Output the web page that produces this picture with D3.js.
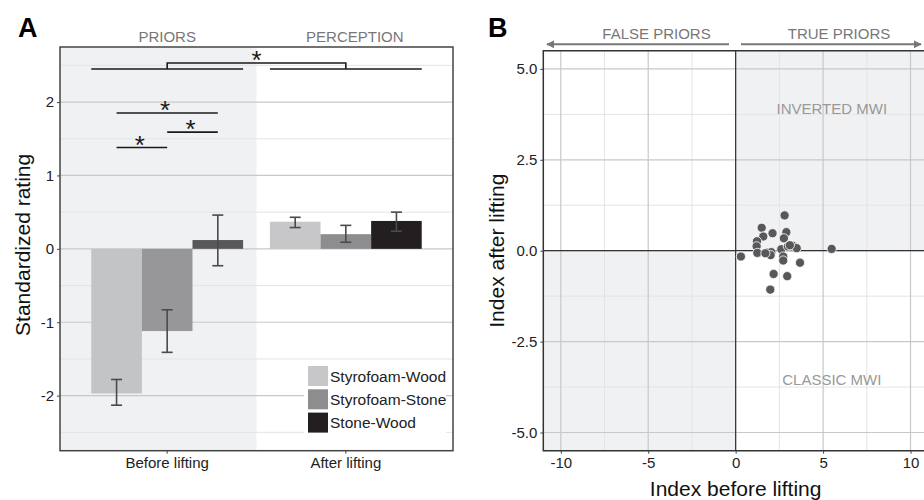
<!DOCTYPE html>
<html lang="en">
<head>
<meta charset="utf-8">
<script src="https://d3js.org/d3.v7.min.js"></script>
<style>
  body { margin: 0; background: #fff; }
  svg { font-family: "Liberation Sans", Arial, sans-serif; }
</style>
</head>
<body>
<script>
// Panel A data
const groups = ["Before lifting", "After lifting"];
const series = ["Styrofoam-Wood", "Styrofoam-Stone", "Stone-Wood"];
const beforeMean = [-1.97, -1.12, 0.12];
const beforeLow = [-2.13, -1.41, -0.23];
const beforeHigh = [-1.78, -0.83, 0.46];
const afterMean = [0.37, 0.20, 0.38];
const afterLow = [0.29, 0.09, 0.24];
const afterHigh = [0.43, 0.32, 0.50];
const ratingTicks = [-2, -1, 0, 1, 2];
// pairwise comparisons within "Before lifting": [seriesA, seriesB, level]
const sigPairs = [[0, 1, 1.38], [1, 2, 1.59], [0, 2, 1.85]];
const groupSigLevel = 2.45;

// Panel B data
const indexBefore = [2.8, 1.49, 1.58, 2.11, 2.9, 2.76, 1.22, 1.2, 1.24, 1.83, 2.04, 2.0, 2.61,
  2.99, 3.24, 3.49, 2.72, 2.72, 3.68, 2.17, 2.95, 1.98, 0.3, 5.49, 1.7, 3.1];
const indexAfter = [0.97, 0.63, 0.39, 0.48, 0.51, 0.34, 0.26, 0.12, -0.06, -0.05, -0.04, -0.12, 0.04,
  0.12, 0.14, 0.07, -0.16, -0.27, -0.33, -0.64, -0.70, -1.07, -0.16, 0.05, -0.07, 0.15];
const xTicksB = [-10, -5, 0, 5, 10];
const yTicksB = [-5, -2.5, 0, 2.5, 5];

const seriesColors = ["#c7c7c9", "#8d8d90", "#231f20"];
const beforeColors = ["#c3c4c6", "#97979a", "#58585a"];
const shade = "#f0f1f3";
const hyphen = f => d => f(d).replace("\u2212", "-");

const svg = d3.select("body").append("svg")
  .attr("width", 924).attr("height", 500);

// ---------------- Panel A ----------------
const A = { left: 60, right: 453, top: 47, bottom: 450.7 };
const x0 = d3.scaleBand().domain(groups).range([A.left, A.right])
  .paddingInner(0.15).paddingOuter(0.175);
const x1 = d3.scaleBand().domain(series).range([0, x0.bandwidth()]);
const yA = d3.scaleLinear().domain([-2.75, 2.75]).range([A.bottom, A.top]);

const gA = svg.append("g");
const midA = (x0(groups[0]) + x0(groups[1]) + x0.bandwidth()) / 2;

gA.append("rect").attr("x", A.left).attr("y", A.top)
  .attr("width", midA - A.left).attr("height", A.bottom - A.top).attr("fill", shade);

// grid
const minorA = d3.range(-2.5, 2.75, 1);
gA.selectAll(".minor").data(minorA).join("line")
  .attr("x1", A.left).attr("x2", A.right)
  .attr("y1", d => yA(d)).attr("y2", d => yA(d))
  .attr("stroke", "#e4e4e6").attr("stroke-width", 1);
gA.selectAll(".major").data(ratingTicks).join("line")
  .attr("x1", A.left).attr("x2", A.right)
  .attr("y1", d => yA(d)).attr("y2", d => yA(d))
  .attr("stroke", "#c8c8ca").attr("stroke-width", 1.2);

// bars
const barRows = [];
series.forEach((s, i) => {
  barRows.push({ g: groups[0], s, i, v: beforeMean[i], lo: beforeLow[i], hi: beforeHigh[i], c: beforeColors[i] });
  barRows.push({ g: groups[1], s, i, v: afterMean[i], lo: afterLow[i], hi: afterHigh[i], c: seriesColors[i] });
});
gA.selectAll(".bar").data(barRows).join("rect")
  .attr("x", d => x0(d.g) + x1(d.s))
  .attr("width", x1.bandwidth())
  .attr("y", d => yA(Math.max(0, d.v)))
  .attr("height", d => Math.abs(yA(d.v) - yA(0)))
  .attr("fill", d => d.c);

// error bars
const cap = 5.5;
const eb = gA.selectAll(".eb").data(barRows).join("g")
  .attr("stroke", "#4a4a4c").attr("stroke-width", 1.6);
eb.append("line")
  .attr("x1", d => x0(d.g) + x1(d.s) + x1.bandwidth() / 2)
  .attr("x2", d => x0(d.g) + x1(d.s) + x1.bandwidth() / 2)
  .attr("y1", d => yA(d.lo)).attr("y2", d => yA(d.hi));
["lo", "hi"].forEach(k => {
  eb.append("line")
    .attr("x1", d => x0(d.g) + x1(d.s) + x1.bandwidth() / 2 - cap)
    .attr("x2", d => x0(d.g) + x1(d.s) + x1.bandwidth() / 2 + cap)
    .attr("y1", d => yA(d[k])).attr("y2", d => yA(d[k]));
});

// significance lines
const ink = "#1a1a1a";
const barMid = (g, i) => x0(g) + x1(series[i]) + x1.bandwidth() / 2;
const star = (x, y) => gA.append("text").attr("x", x).attr("y", y + 7)
  .attr("text-anchor", "middle").attr("font-size", 26).attr("fill", ink).text("*");

sigPairs.forEach(([a, b, lvl]) => {
  gA.append("line").attr("x1", barMid(groups[0], a)).attr("x2", barMid(groups[0], b))
    .attr("y1", yA(lvl)).attr("y2", yA(lvl)).attr("stroke", ink).attr("stroke-width", 1.6);
  star((barMid(groups[0], a) + barMid(groups[0], b)) / 2 - 2, yA(lvl) - 1);
});
groups.forEach(g => {
  gA.append("line").attr("x1", x0(g)).attr("x2", x0(g) + x0.bandwidth())
    .attr("y1", yA(groupSigLevel)).attr("y2", yA(groupSigLevel))
    .attr("stroke", ink).attr("stroke-width", 1.6);
});
const cB = x0(groups[0]) + x0.bandwidth() / 2, cA = x0(groups[1]) + x0.bandwidth() / 2;
gA.append("path")
  .attr("d", `M${cB},${yA(groupSigLevel)}V${yA(groupSigLevel) - 6}H${cA}V${yA(groupSigLevel)}`)
  .attr("fill", "none").attr("stroke", ink).attr("stroke-width", 1.6);
star((cB + cA) / 2, yA(groupSigLevel) - 7);

// border
gA.append("rect").attr("x", A.left).attr("y", A.top)
  .attr("width", A.right - A.left).attr("height", A.bottom - A.top)
  .attr("fill", "none").attr("stroke", "#444").attr("stroke-width", 1.5);

// axes
const axA = gA.append("g").attr("transform", `translate(${A.left},0)`)
  .call(d3.axisLeft(yA).tickValues(ratingTicks).tickFormat(hyphen(d3.format("d"))).tickSize(3).tickPadding(3));
const axAx = gA.append("g").attr("transform", `translate(0,${A.bottom})`)
  .call(d3.axisBottom(x0).tickSize(3).tickPadding(4));
[axA, axAx].forEach(ax => {
  ax.select(".domain").remove();
  ax.selectAll("text").attr("font-size", 15).attr("fill", "#222")
    .attr("font-family", "'Liberation Sans', Arial, sans-serif");
  ax.selectAll("line").attr("stroke", "#444");
});

gA.append("text").attr("transform", `translate(30,${(A.top + A.bottom) / 2 - 4}) rotate(-90)`)
  .attr("text-anchor", "middle").attr("font-size", 21).attr("fill", "#111").text("Standardized rating");
gA.append("text").attr("x", 18).attr("y", 37).attr("font-size", 27).attr("font-weight", "bold").text("A");
gA.append("text").attr("x", x0(groups[0]) + x0.bandwidth() / 2).attr("y", 42)
  .attr("text-anchor", "middle").attr("font-size", 15).attr("fill", "#777").text("PRIORS");
gA.append("text").attr("x", x0(groups[1]) + x0.bandwidth() / 2 + 9).attr("y", 42)
  .attr("text-anchor", "middle").attr("font-size", 15).attr("fill", "#777").text("PERCEPTION");

// legend
const leg = gA.append("g").attr("transform", "translate(304,362)");
leg.append("rect").attr("width", 142).attr("height", 74).attr("fill", "#fff");
series.forEach((s, i) => {
  leg.append("rect").attr("x", 4).attr("y", 4 + i * 23.3).attr("width", 20).attr("height", 20)
    .attr("fill", seriesColors[i]);
  leg.append("text").attr("x", 26).attr("y", 19.5 + i * 23.3).attr("font-size", 15.5)
    .attr("fill", "#222").text(s);
});

// ---------------- Panel B ----------------
const B = { left: 543.3, right: 928, top: 50.7, bottom: 450.7 };
const xB = d3.scaleLinear().domain([-11, 11]).range([B.left, B.right]);
const yB = d3.scaleLinear().domain([-5.5, 5.5]).range([B.bottom, B.top]);
const gB = svg.append("g");

gB.append("rect").attr("x", xB(0)).attr("y", yB(5.5)).attr("width", xB(11) - xB(0))
  .attr("height", yB(0) - yB(5.5)).attr("fill", shade);
gB.append("rect").attr("x", xB(-11)).attr("y", yB(0)).attr("width", xB(0) - xB(-11))
  .attr("height", yB(-5.5) - yB(0)).attr("fill", shade);

const minorXB = [-7.5, -2.5, 2.5, 7.5], minorYB = [-3.75, -1.25, 1.25, 3.75];
gB.selectAll(".mx").data(minorXB).join("line")
  .attr("x1", d => xB(d)).attr("x2", d => xB(d)).attr("y1", B.top).attr("y2", B.bottom)
  .attr("stroke", "#e4e4e6");
gB.selectAll(".my").data(minorYB).join("line")
  .attr("y1", d => yB(d)).attr("y2", d => yB(d)).attr("x1", B.left).attr("x2", B.right)
  .attr("stroke", "#e4e4e6");
gB.selectAll(".Mx").data(xTicksB).join("line")
  .attr("x1", d => xB(d)).attr("x2", d => xB(d)).attr("y1", B.top).attr("y2", B.bottom)
  .attr("stroke", "#c8c8ca").attr("stroke-width", 1.2);
gB.selectAll(".My").data(yTicksB).join("line")
  .attr("y1", d => yB(d)).attr("y2", d => yB(d)).attr("x1", B.left).attr("x2", B.right)
  .attr("stroke", "#c8c8ca").attr("stroke-width", 1.2);

gB.append("line").attr("x1", xB(0)).attr("x2", xB(0)).attr("y1", B.top).attr("y2", B.bottom)
  .attr("stroke", "#333").attr("stroke-width", 1.2);
gB.append("line").attr("y1", yB(0)).attr("y2", yB(0)).attr("x1", B.left).attr("x2", B.right)
  .attr("stroke", "#333").attr("stroke-width", 1.2);

gB.append("text").attr("x", xB(5.5)).attr("y", yB(3.9) + 5).attr("text-anchor", "middle")
  .attr("font-size", 15).attr("fill", "#999").text("INVERTED MWI");
gB.append("text").attr("x", xB(5.5)).attr("y", yB(-3.55) + 5).attr("text-anchor", "middle")
  .attr("font-size", 15).attr("fill", "#999").text("CLASSIC MWI");

gB.selectAll(".pt").data(indexBefore.map((v, i) => [v, indexAfter[i]])).join("circle")
  .attr("cx", d => xB(d[0])).attr("cy", d => yB(d[1])).attr("r", 4.6)
  .attr("fill", "#58585a").attr("stroke", "#fff").attr("stroke-width", 0.8);

gB.append("path")
  .attr("d", `M${B.right},${B.top}H${B.left}V${B.bottom}H${B.right}`)
  .attr("fill", "none").attr("stroke", "#333").attr("stroke-width", 1.5);

const axBy = gB.append("g").attr("transform", `translate(${B.left},0)`)
  .call(d3.axisLeft(yB).tickValues(yTicksB).tickFormat(hyphen(d3.format(".1f"))).tickSize(3).tickPadding(3));
const axBx = gB.append("g").attr("transform", `translate(0,${B.bottom})`)
  .call(d3.axisBottom(xB).tickValues(xTicksB).tickFormat(hyphen(d3.format("d"))).tickSize(3).tickPadding(4));
[axBy, axBx].forEach(ax => {
  ax.select(".domain").remove();
  ax.selectAll("text").attr("font-size", 15).attr("fill", "#222")
    .attr("font-family", "'Liberation Sans', Arial, sans-serif");
  ax.selectAll("line").attr("stroke", "#444");
});

gB.append("text").attr("transform", `translate(504,${(B.top + B.bottom) / 2}) rotate(-90)`)
  .attr("text-anchor", "middle").attr("font-size", 21).attr("fill", "#111").text("Index after lifting");
gB.append("text").attr("x", xB(0)).attr("y", 496).attr("text-anchor", "middle")
  .attr("font-size", 21).attr("fill", "#111").text("Index before lifting");
gB.append("text").attr("x", 488).attr("y", 37).attr("font-size", 27).attr("font-weight", "bold").text("B");

// priors arrows
const defs = svg.append("defs");
defs.append("marker").attr("id", "ah").attr("viewBox", "0 0 10 10").attr("refX", 9).attr("refY", 5)
  .attr("markerWidth", 4).attr("markerHeight", 4).attr("orient", "auto-start-reverse")
  .append("path").attr("d", "M0,0L10,5L0,10z").attr("fill", "#777");
gB.append("line").attr("x1", 729).attr("x2", 547).attr("y1", 44.3).attr("y2", 44.3)
  .attr("stroke", "#777").attr("stroke-width", 2).attr("marker-end", "url(#ah)");
gB.append("line").attr("x1", 741).attr("x2", 921).attr("y1", 44.3).attr("y2", 44.3)
  .attr("stroke", "#777").attr("stroke-width", 2).attr("marker-end", "url(#ah)");
gB.append("text").attr("x", 656.5).attr("y", 39).attr("text-anchor", "middle")
  .attr("font-size", 15).attr("fill", "#777").text("FALSE PRIORS");
gB.append("text").attr("x", 839).attr("y", 39).attr("text-anchor", "middle")
  .attr("font-size", 15).attr("fill", "#777").text("TRUE PRIORS");
</script>
</body>
</html>
